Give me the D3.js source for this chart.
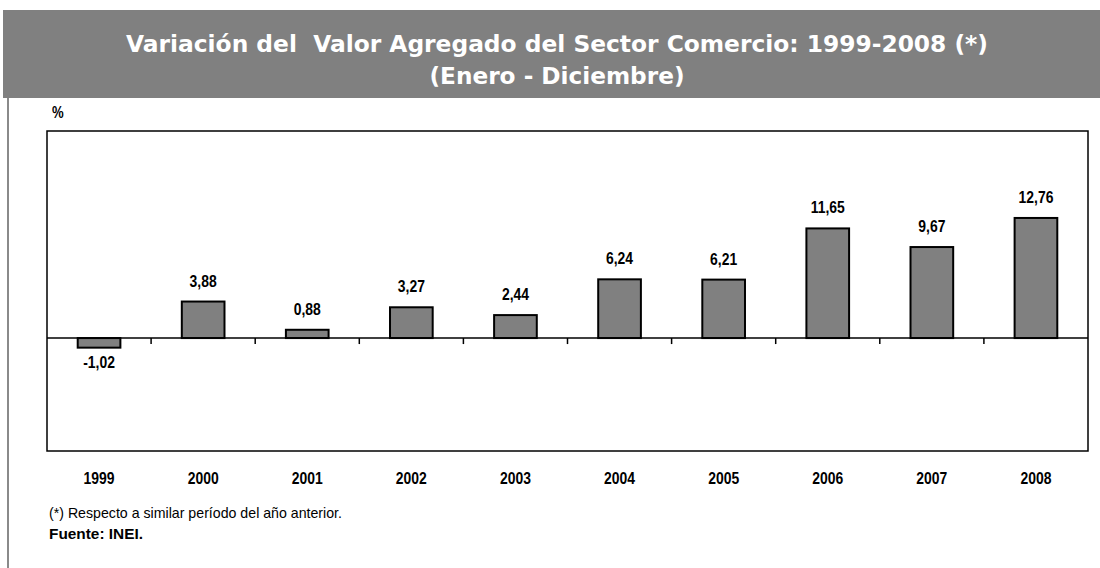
<!DOCTYPE html>
<html>
<head>
<meta charset="utf-8">
<script src="https://cdn.jsdelivr.net/npm/d3@7.9.0/dist/d3.min.js"></script>
<style>
  body { margin: 0; background: #fff; }
  svg { display: block; }
</style>
</head>
<body>
<div id="chart"></div>
<script>
// data
const years = ["1999", "2000", "2001", "2002", "2003", "2004", "2005", "2006", "2007", "2008"];
const values = [-1.02, 3.88, 0.88, 3.27, 2.44, 6.24, 6.21, 11.65, 9.67, 12.76];
const labels = ["-1,02", "3,88", "0,88", "3,27", "2,44", "6,24", "6,21", "11,65", "9,67", "12,76"];
const titleLines = ["Variación del  Valor Agregado del Sector Comercio: 1999-2008 (*)", "(Enero - Diciembre)"];
const titleWidths = [862, 255];

const W = 1100, H = 568;
const plot = { left: 47, right: 1088, top: 131, bottom: 451 };
const sans = "'Liberation Sans', Arial, sans-serif";
const squeeze = 0.82; // fake Arial Narrow

const svg = d3.select("#chart").append("svg")
    .attr("width", W)
    .attr("height", H);

// header band
svg.append("rect")
    .attr("x", 3).attr("y", 10)
    .attr("width", W - 3).attr("height", 88)
    .attr("fill", "#808080");

svg.selectAll("text.title")
    .data(titleLines)
    .join("text")
    .attr("class", "title")
    .attr("x", 557)
    .attr("y", (d, i) => 52 + i * 32)
    .attr("text-anchor", "middle")
    .attr("textLength", (d, i) => titleWidths[i])
    .attr("lengthAdjust", "spacingAndGlyphs")
    .style("font-family", "'DejaVu Sans', sans-serif")
    .style("font-weight", "bold")
    .style("font-size", "23px")
    .attr("fill", "#fff")
    .style("white-space", "pre")
    .text(d => d);

// left gray rule
svg.append("line")
    .attr("x1", 8).attr("x2", 8)
    .attr("y1", 98).attr("y2", H)
    .attr("stroke", "#8a8a8a")
    .attr("stroke-width", 2);

// scales
const x = d3.scaleBand().domain(years).range([plot.left, plot.right]).paddingInner(0).paddingOuter(0);
const y = d3.scaleLinear().domain([-12, 22]).range([plot.bottom, plot.top]);
const barW = x.bandwidth() * 0.41;

// frame
svg.append("rect")
    .attr("x", plot.left).attr("y", plot.top)
    .attr("width", plot.right - plot.left).attr("height", plot.bottom - plot.top)
    .attr("fill", "none")
    .attr("stroke", "#000")
    .attr("stroke-width", 1.5);

// % label
svg.append("text")
    .attr("transform", `translate(52,118) scale(${squeeze},1)`)
    .style("font-family", sans)
    .style("font-weight", "bold")
    .style("font-size", "16px")
    .text("%");

// bars
svg.selectAll("rect.bar")
    .data(values)
    .join("rect")
    .attr("class", "bar")
    .attr("x", (d, i) => x(years[i]) + (x.bandwidth() - barW) / 2)
    .attr("y", d => y(Math.max(0, d)))
    .attr("width", barW)
    .attr("height", d => Math.abs(y(d) - y(0)))
    .attr("fill", "#808080")
    .attr("stroke", "#000")
    .attr("stroke-width", 2);

// zero axis with ticks between categories
const axis = svg.append("g")
    .attr("transform", `translate(0,${y(0)})`);
axis.append("line")
    .attr("x1", plot.left).attr("x2", plot.right)
    .attr("stroke", "#000").attr("stroke-width", 1.5);
axis.selectAll("line.tick")
    .data(years.slice(1))
    .join("line")
    .attr("class", "tick")
    .attr("x1", d => x(d)).attr("x2", d => x(d))
    .attr("y1", 0).attr("y2", 6)
    .attr("stroke", "#000").attr("stroke-width", 1.5);

// value labels
svg.selectAll("text.val")
    .data(values)
    .join("text")
    .attr("class", "val")
    .attr("transform", (d, i) => {
        const cx = x(years[i]) + x.bandwidth() / 2;
        const cy = d >= 0 ? y(d) - 15 : y(d) + 20;
        return `translate(${cx},${cy}) scale(${squeeze},1)`;
    })
    .attr("text-anchor", "middle")
    .style("font-family", sans)
    .style("font-weight", "bold")
    .style("font-size", "17px")
    .text((d, i) => labels[i]);

// year labels
svg.selectAll("text.year")
    .data(years)
    .join("text")
    .attr("class", "year")
    .attr("transform", d => `translate(${x(d) + x.bandwidth() / 2},484) scale(${squeeze},1)`)
    .attr("text-anchor", "middle")
    .style("font-family", sans)
    .style("font-weight", "bold")
    .style("font-size", "17px")
    .text(d => d);

// notes
svg.append("text")
    .attr("x", 49).attr("y", 518)
    .attr("textLength", 293)
    .attr("lengthAdjust", "spacingAndGlyphs")
    .style("font-family", sans)
    .style("font-size", "15px")
    .text("(*) Respecto a similar período del año anterior.");

svg.append("text")
    .attr("x", 49).attr("y", 539)
    .attr("textLength", 94)
    .attr("lengthAdjust", "spacingAndGlyphs")
    .style("font-family", sans)
    .style("font-weight", "bold")
    .style("font-size", "15px")
    .text("Fuente: INEI.");
</script>
</body>
</html>
